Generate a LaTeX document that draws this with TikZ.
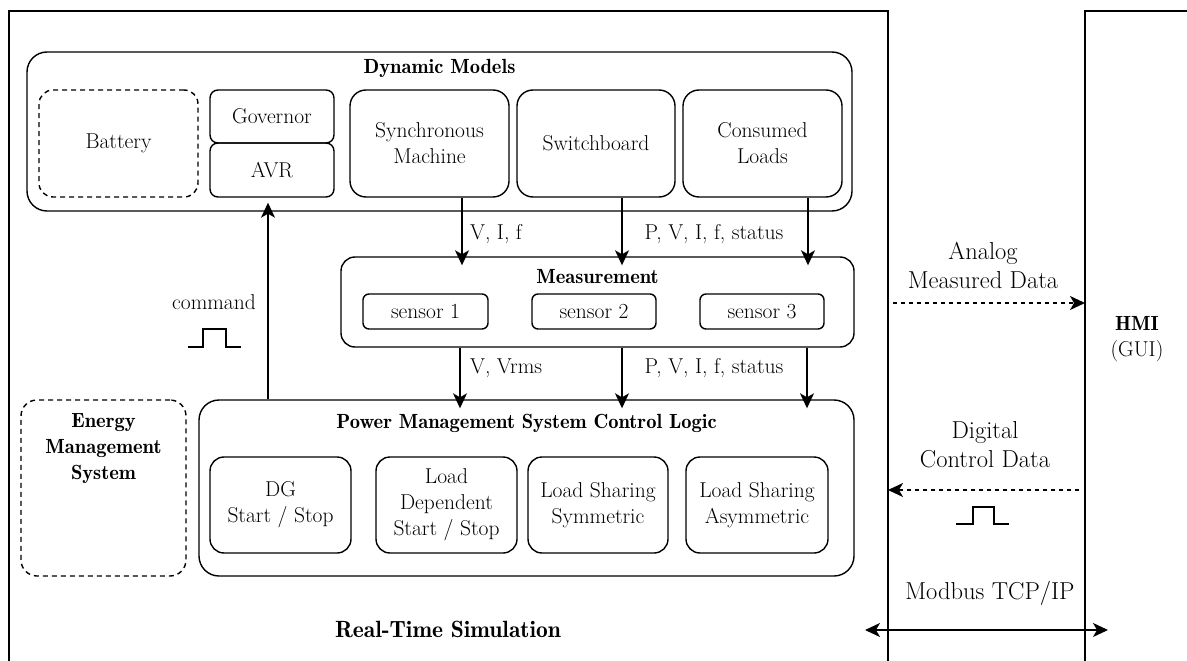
\documentclass[tikz,border=0pt]{standalone}
\usepackage{fontspec}
\newfontfamily\demifont{lmromandemi10-regular.otf}
\usetikzlibrary{arrows.meta}
\begin{document}
\begin{tikzpicture}[x=1pt,y=-1pt,
  every node/.style={font=\rmfamily\fontsize{21.5}{26}\selectfont, inner sep=0pt},
  box/.style={draw, line width=1.4pt, rounded corners=#1, align=center},
  dbox/.style={box=#1, dash pattern=on 5pt off 4pt},
  frame/.style={line width=1.4pt},
  tip/.tip={Stealth[length=15pt,width=14pt,inset=4pt]},
  arr/.style={line width=1.4pt, -tip, shorten >=-9pt},
  darr/.style={line width=1.4pt, dash pattern=on 4pt off 4pt, -tip},
  barr/.style={line width=1.4pt, tip-tip},
  big/.style={font=\rmfamily\fontsize{24.5}{29}\selectfont, align=center},
  ttl/.style={font=\demifont\fontsize{20.5}{26}\selectfont, align=center},
  pulse/.style={line width=1.4pt}
]
\useasboundingbox (0,0) rectangle (1187,661);
% frames
\draw[frame] (9,661) -- (9,11) -- (888,11) -- (888,661);
\draw[frame] (1085,661) -- (1085,11) -- (1187,11);
\node[ttl] (hmi) at (1137,339) {HMI\\\rmfamily\fontsize{21.5}{26}\selectfont(GUI)};
\node[font=\demifont\fontsize{23.5}{28}\selectfont] (rts) at (448,629) {Real-Time Simulation};

% Dynamic models
\node[box=20, minimum width=825pt, minimum height=159pt] (dm) at (439.5,131.5) {};
\node[ttl] (dmt) at (439.5,68) {Dynamic Models};
\node[dbox=14, minimum width=159pt, minimum height=107pt] (bat) at (118.5,143.5) {Battery};
\node[box=8, minimum width=124pt, minimum height=53pt] (gov) at (272,116.5) {Governor};
\node[box=8, minimum width=124pt, minimum height=54pt] (avr) at (272,170) {AVR};
\node[box=16, minimum width=159pt, minimum height=107pt] (sm) at (429.5,143.5) {Synchronous\\Machine};
\node[box=16, minimum width=158pt, minimum height=107pt] (sw) at (596,143.5) {Switchboard};
\node[box=16, minimum width=159pt, minimum height=107pt] (cl) at (762.5,143.5) {Consumed\\Loads};

% Measurement
\node[box=14, minimum width=513pt, minimum height=90pt] (meas) at (597.5,302) {};
\node[ttl] (meast) at (597.5,277) {Measurement};
\node[box=6, minimum width=125pt, minimum height=35pt] (s1) at (425.5,311.5) {sensor 1};
\node[box=6, minimum width=124pt, minimum height=35pt] (s2) at (594,311.5) {sensor 2};
\node[box=6, minimum width=124pt, minimum height=35pt] (s3) at (762,311.5) {sensor 3};

% PMS
\node[box=20, minimum width=655pt, minimum height=176pt] (pms) at (526.5,488) {};
\node[ttl] (pmst) at (526.5,423) {Power Management System Control Logic};
\node[box=14, minimum width=141pt, minimum height=96pt] (dg) at (280.5,505) {DG\\Start / Stop};
\node[box=14, minimum width=141pt, minimum height=96pt] (ld) at (446.5,505) {Load\\Dependent\\Start / Stop};
\node[box=14, minimum width=140pt, minimum height=96pt] (lss) at (598,505) {Load Sharing\\Symmetric};
\node[box=14, minimum width=142pt, minimum height=96pt] (lsa) at (757,505) {Load Sharing\\Asymmetric};

% EMS
\node[dbox=16, minimum width=165pt, minimum height=176pt] (ems) at (103.5,488) {};
\node[ttl] (emst) at (103.5,449) {Energy\\Management\\System};

% arrows top
\draw[arr] (sm.south -| 462,0) -- (meas.north -| 462,0);
\draw[arr] (sw.south -| 622,0) -- (meas.north -| 622,0);
\draw[arr] (cl.south -| 808,0) -- (meas.north -| 808,0);
\node[anchor=west] (l1) at (470,234) {V, I, f};
\node (l2) at (714,234) {P, V, I, f, status};

% arrows bottom
\draw[arr] (meas.south -| 460,0) -- (pms.north -| 460,0);
\draw[arr] (meas.south -| 622,0) -- (pms.north -| 622,0);
\draw[arr] (meas.south -| 807,0) -- (pms.north -| 807,0);
\node[anchor=west] (l3) at (470,368) {V, Vrms};
\node (l4) at (714,368) {P, V, I, f, status};

% command
\draw[arr] (pms.north -| 268,0) -- (dm.south -| 268,0);
\node (cmd) at (214,302) {command};
\draw[pulse] (187.5,347) -- (203,347) -- (203,329) -- (226,329) -- (226,347) -- (241,347);

% right side
\node[big] (ana) at (983,265) {Analog\\Measured Data};
\coordinate (a1) at (893,303);
\coordinate (a2) at (1085,303);
\draw[darr] (a1) -- (a2);
\node[big] (dig) at (985,445) {Digital\\Control Data};
\coordinate (d1) at (1079,490);
\coordinate (d2) at (888,490);
\draw[darr] (d1) -- (d2);
\draw[pulse] (956,524) -- (973,524) -- (973,507) -- (994,507) -- (994,524) -- (1009,524);
\node[big] (mod) at (990,593) {Modbus TCP/IP};
\coordinate (m1) at (865,630);
\coordinate (m2) at (1108,630);
\draw[barr] (m1) -- (m2);
\end{tikzpicture}
\end{document}
